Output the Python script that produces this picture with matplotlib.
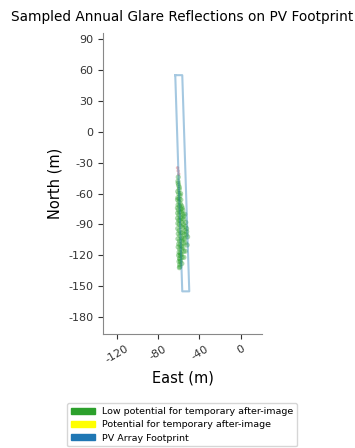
import matplotlib
matplotlib.use('Agg')
import matplotlib.pyplot as plt
import matplotlib.patches as mpatches

plt.rcParams['axes.unicode_minus'] = False

# PV footprint outline (east, north in m)
foot_x = [-63.4, -56.6, -49.8, -56.6, -63.4]
foot_y = [55, 55, -155, -155, 55]

# sampled glare reflection points (low potential)
glare_x = [-60.5, -60.8, -60.2, -59.6, -61.0, -60.0, -58.8, -61.2, -59.8, -58.4,
           -57.2, -61.3, -60.4, -59.0, -57.6, -56.0, -55.0, -61.2, -60.0, -58.6,
           -57.0, -55.4, -53.6, -52.4, -61.0, -59.6, -58.0, -56.4, -54.6, -52.8,
           -51.4, -60.8, -59.2, -57.4, -55.6, -53.6, -51.8, -60.6, -59.0, -57.2,
           -55.2, -53.6, -60.2, -58.6, -56.8, -55.0, -59.8, -58.4, -57.0, -59.4,
           -60.6, -59.4, -58.2, -60.9, -59.5, -58.0, -56.6, -60.7, -59.3, -57.8,
           -56.2, -54.2, -61.1, -59.9, -58.3, -56.7, -55.1, -53.2, -60.9, -59.5,
           -57.9, -56.1, -54.1, -52.3, -60.5, -58.9, -57.3, -55.7, -54.3, -60.1,
           -58.7, -57.3, -55.9, -59.7, -58.5, -57.5, -59.3, -58.7, -59.1, -58.9]
glare_y = [-44, -48, -52, -56, -58, -60, -62, -66, -68, -70,
           -72, -74, -76, -78, -78, -80, -82, -84, -86, -86,
           -88, -90, -92, -94, -94, -96, -98, -98, -100, -100,
           -102, -104, -106, -106, -108, -108, -110, -112, -114, -114,
           -116, -116, -120, -120, -122, -122, -126, -126, -128, -132,
           -50, -54, -60, -64, -65, -66, -74, -71, -72, -75,
           -76, -80, -79, -81, -83, -84, -85, -88, -89, -90,
           -92, -93, -96, -97, -99, -101, -103, -104, -104, -109,
           -110, -111, -112, -117, -118, -119, -123, -124, -129, -131]

# points just above the green streak
other_x = [-61.2, -60.6, -60.0]
other_y = [-35, -38, -41]

fig = plt.figure(figsize=(3.55, 4.48), dpi=100)
ax = fig.add_axes([0.290, 0.2545, 0.448, 0.6715])

ax.plot(foot_x, foot_y, color='tab:blue', alpha=0.4, lw=1.5)
ax.scatter(glare_x, glare_y, s=14, color='tab:green', alpha=0.4, edgecolors='none')
ax.scatter(other_x, other_y, s=6, color='tab:red', alpha=0.3, edgecolors='none')

ax.set_xlim(-133.6, 20.8)
ax.set_ylim(-196.4, 95.8)
ax.set_xticks([-120, -80, -40, 0])
ax.set_yticks([90, 60, 30, 0, -30, -60, -90, -120, -150, -180])
ax.tick_params(labelsize=8, colors='#333333')
for lbl in ax.get_xticklabels():
    lbl.set_rotation(30)
ax.spines['top'].set_visible(False)
ax.spines['right'].set_visible(False)
ax.spines['left'].set_color('#888888')
ax.spines['bottom'].set_color('#888888')
ax.set_xlabel('East (m)', fontsize=10.5)
ax.set_ylabel('North (m)', fontsize=10.5)
ax.set_title('Sampled Annual Glare Reflections on PV Footprint', fontsize=9.8, pad=9)

handles = [mpatches.Patch(color='tab:green', label='Low potential for temporary after-image'),
           mpatches.Patch(color='yellow', label='Potential for temporary after-image'),
           mpatches.Patch(color='tab:blue', label='PV Array Footprint')]
fig.legend(handles=handles, loc='upper center', bbox_to_anchor=(0.513, 0.11),
           fontsize=6.8, handlelength=2.5, handleheight=0.6, labelspacing=0.45)

fig.savefig('out.png', dpi=100)
